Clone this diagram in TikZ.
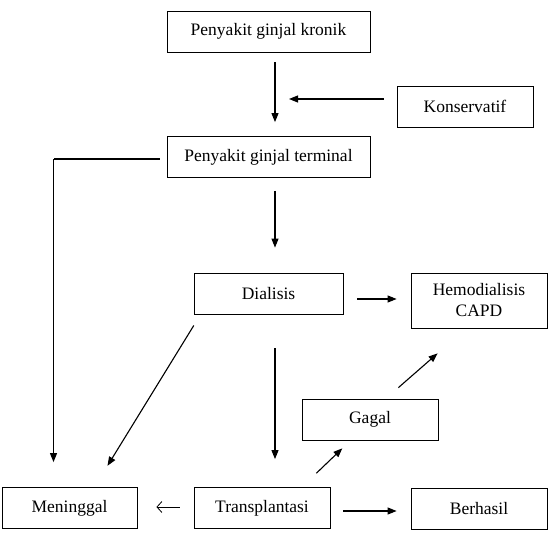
\documentclass[tikz,border=0pt]{standalone}
\usepackage{fontspec}
\setmainfont{Liberation Serif}
\usetikzlibrary{arrows.meta}

\begin{document}
\begin{tikzpicture}[x=1pt,y=-1pt,
  box/.style={draw,line width=0.8pt,minimum height=41pt,inner sep=2pt,
    font=\fontsize{17.5}{21}\selectfont,align=center},
  arr/.style={line width=1.1pt,-{Triangle[length=9pt,width=7pt]}},
  opn/.style={line width=0.8pt,-{Straight Barb[length=5pt,width=11pt]}}]
\useasboundingbox (0,0) rectangle (549,538);
% boxes
\node[box,minimum width=203pt] (pgk) at (268.5,31.5) {Penyakit ginjal kronik};
\node[box,minimum width=136pt] (kons) at (465,106.5) {Konservatif};
\node[box,minimum width=203pt] (pgt) at (268.5,157) {Penyakit ginjal terminal};
\node[box,minimum width=149pt] (dial) at (268.5,293.5) {Dialisis};
\node[box,minimum width=136pt,minimum height=55pt] (hemo) at (479,300.5) {Hemodialisis\\CAPD};
\node[box,minimum width=136pt] (gagal) at (370,419.5) {Gagal};
\node[box,minimum width=135pt] (men) at (69.5,508) {Meninggal};
\node[box,minimum width=136pt] (trans) at (262,508) {Transplantasi};
\node[box,minimum width=136pt] (ber) at (479,509) {Berhasil};
\coordinate (join) at (275,99);
\coordinate (corner) at (53.5,159);
% connectors
\draw[arr,shorten <=10pt,shorten >=14pt] ([xshift=6.5]pgk.south) -- ([xshift=6.5]pgt.north);
\draw[arr,shorten <=13pt,shorten >=14pt] ([yshift=7.5]kons.west) -- (join);
\draw[line width=2pt,shorten <=7pt] ([yshift=-2]pgt.west) -- (corner);
\draw[arr,shorten >=25pt] (corner) -- (corner |- men.north);
\draw[arr,shorten <=13pt,shorten >=25pt] ([xshift=6.5]pgt.south) -- ([xshift=6.5]dial.north);
\draw[arr,shorten <=14pt,shorten >=14pt] ([yshift=-5.5]dial.east) -- ([yshift=-5.5]dial.east -| hemo.west);
\draw[arr,shorten <=13pt,shorten >=25pt] ([xshift=7]dial.south west) -- ([xshift=-43]men.north east);
\draw[arr,shorten <=34pt,shorten >=28pt] ([xshift=6.5]dial.south) -- ([xshift=6.5]dial.south |- trans.north);
\draw[arr,shorten <=20pt,shorten >=11.5pt] ([xshift=-28.5]trans.north east) -- ([xshift=49]gagal.south west);
\draw[arr,shorten <=16.7pt,shorten >=38pt] ([xshift=-52.6]gagal.north east) -- ([xshift=55.6]hemo.south west);
\draw[opn,shorten <=14pt,shorten >=19pt] ([yshift=1]trans.west) -- ([yshift=1]trans.west -| men.east);
\draw[arr,shorten <=13pt,shorten >=14pt] ([yshift=-3]trans.east) -- ([yshift=-3]trans.east -| ber.west);
\end{tikzpicture}
\end{document}
